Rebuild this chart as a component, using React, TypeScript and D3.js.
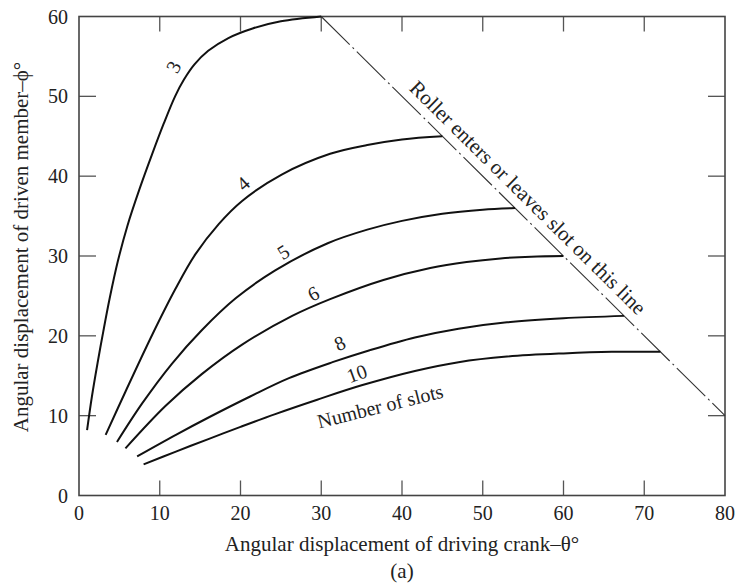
import React from "react";
import * as d3 from "d3";

const W = 735;
const H = 586;

const xTicks = [0, 10, 20, 30, 40, 50, 60, 70, 80];
const yTicks = [0, 10, 20, 30, 40, 50, 60];

const slots3: [number, number][] = [[1.0, 8.2], [1.6, 12.4], [2.3, 16.6], [3.0, 20.5], [3.8, 24.7], [4.8, 29.3], [6.0, 33.8], [7.5, 38.4], [9.0, 42.6], [10.5, 46.6], [11.9, 50.0], [13.0, 52.1], [14.3, 54.0], [16.0, 55.7], [18.5, 57.3], [21.5, 58.5], [25, 59.4], [30, 60]];
const slots4: [number, number][] = [[3.3, 7.6], [5.75, 13.0], [9.1, 20.2], [11.9, 25.8], [14.4, 30.2], [17.3, 34.0], [20.2, 36.9], [25.1, 40.2], [31.1, 42.8], [35.7, 43.9], [40, 44.6], [45, 45]];
const slots5: [number, number][] = [[4.7, 6.7], [7.8, 11.5], [11.5, 16.5], [15.2, 20.7], [19.4, 24.7], [24.3, 28.2], [30.8, 31.6], [35.7, 33.3], [40, 34.4], [45, 35.3], [50, 35.8], [54, 36]];
const slots6: [number, number][] = [[5.75, 5.9], [10.7, 11.2], [15.2, 15.2], [20.2, 18.9], [26.4, 22.5], [31.1, 24.6], [37.7, 27.0], [43.5, 28.5], [48, 29.25], [52.2, 29.7], [56, 29.92], [60, 30]];
const slots8: [number, number][] = [[7.2, 4.9], [12, 7.6], [16.1, 9.8], [21.2, 12.4], [26, 14.7], [31.4, 16.7], [36, 18.2], [41.6, 19.8], [47, 20.9], [53, 21.7], [60, 22.2], [67.5, 22.5]];
const slots10: [number, number][] = [[8, 3.9], [12, 5.5], [16.1, 7.1], [20, 8.6], [24.3, 10.2], [29.5, 12.0], [35, 13.8], [41.6, 15.6], [47, 16.7], [53, 17.4], [60, 17.8], [66, 18.0], [72, 18]];

const curves = [slots3, slots4, slots5, slots6, slots8, slots10];

const boundaryLine: [number, number][] = [[30, 60], [80, 10]];

const curveLabels = ["3", "4", "5", "6", "8", "10"];
const curveLabelPos: [number, number][] = [[11.7, 53.7], [20.3, 39.1], [25.3, 30.5], [29.0, 25.3], [32.3, 19.1], [34.4, 15.3]];
const curveLabelAngle = [-62, -42, -32, -27, -24, -20];

const slotsNote = "Number of slots";
const slotsNotePos: [number, number] = [37.3, 11.2];
const lineNote = "Roller enters or leaves slot on this line";
const lineNotePos: [number, number] = [55.6, 37.3];

const xLabel = "Angular displacement of driving crank\u2013\u03b8\u00b0";
const yLabel = "Angular displacement of driven member\u2013\u03d5\u00b0";
const caption = "(a)";

export default function App() {
  const x = d3.scaleLinear().domain([0, 80]).range([79, 725]);
  const y = d3.scaleLinear().domain([0, 60]).range([495.5, 16.5]);
  const line = d3
    .line<[number, number]>()
    .x((d) => x(d[0]))
    .y((d) => y(d[1]))
    .curve(d3.curveCatmullRom.alpha(0.5));
  const straight = d3
    .line<[number, number]>()
    .x((d) => x(d[0]))
    .y((d) => y(d[1]));

  const font = "'Liberation Serif', 'Times New Roman', serif";
  const fsTick = 20;
  const fsLabel = 21;
  const fsNote = 20;
  const lineAngle =
    (Math.atan2(y(boundaryLine[1][1]) - y(boundaryLine[0][1]), x(boundaryLine[1][0]) - x(boundaryLine[0][0])) * 180) /
    Math.PI;

  return (
    <svg width={W} height={H} style={{ position: "absolute", left: 0, top: 0, background: "#fff" }} fontFamily={font}>
      <rect x={0} y={0} width={W} height={H} fill="#fff" />
      {xTicks.slice(1, -1).map((t) => (
        <g key={"xt" + t} stroke="#555" strokeWidth={1.3}>
          <line x1={x(t)} x2={x(t)} y1={y(0)} y2={y(0) - 15} />
          <line x1={x(t)} x2={x(t)} y1={y(60)} y2={y(60) + 15} />
        </g>
      ))}
      {yTicks.slice(1, -1).map((t) => (
        <g key={"yt" + t} stroke="#555" strokeWidth={1.3}>
          <line x1={x(0)} x2={x(0) + 17} y1={y(t)} y2={y(t)} />
          <line x1={x(80)} x2={x(80) - 17} y1={y(t)} y2={y(t)} />
        </g>
      ))}
      <rect x={x(0)} y={y(60)} width={x(80) - x(0)} height={y(0) - y(60)} fill="none" stroke="#444" strokeWidth={1.6} />
      {xTicks.map((t) => (
        <text key={"xl" + t} x={x(t)} y={y(0) + 24} textAnchor="middle" fontSize={fsTick} fill="#222">
          {t}
        </text>
      ))}
      {yTicks.map((t) => (
        <text key={"yl" + t} x={x(0) - 11} y={y(t) + 7} textAnchor="end" fontSize={fsTick} fill="#222">
          {t}
        </text>
      ))}
      <path d={straight(boundaryLine) || ""} fill="none" stroke="#333" strokeWidth={1.1} strokeDasharray="40,4,2,4" />
      {curves.map((c, i) => (
        <path key={"c" + i} d={line(c) || ""} fill="none" stroke="#111" strokeWidth={2} />
      ))}
      {curveLabels.map((l, i) => (
        <text
          key={"cl" + i}
          transform={`translate(${x(curveLabelPos[i][0])},${y(curveLabelPos[i][1])}) rotate(${curveLabelAngle[i]})`}
          textAnchor="middle"
          dominantBaseline="central"
          fontSize={fsNote}
          fill="#222"
        >
          {l}
        </text>
      ))}
      <text
        transform={`translate(${x(slotsNotePos[0])},${y(slotsNotePos[1])}) rotate(-14)`}
        textAnchor="middle"
        dominantBaseline="central"
        fontSize={fsNote}
        fill="#222"
      >
        {slotsNote}
      </text>
      <text
        transform={`translate(${x(lineNotePos[0])},${y(lineNotePos[1])}) rotate(${lineAngle})`}
        textAnchor="middle"
        dominantBaseline="central"
        fontSize={fsLabel}
        fill="#222"
      >
        {lineNote}
      </text>
      <text x={(x(0) + x(80)) / 2} y={551} textAnchor="middle" fontSize={fsLabel} fill="#222">
        {xLabel}
      </text>
      <text x={(x(0) + x(80)) / 2} y={578} textAnchor="middle" fontSize={fsLabel} fill="#222">
        {caption}
      </text>
      <text transform={`translate(28,247) rotate(-90)`} textAnchor="middle" fontSize={fsLabel} fill="#222">
        {yLabel}
      </text>
    </svg>
  );
}
